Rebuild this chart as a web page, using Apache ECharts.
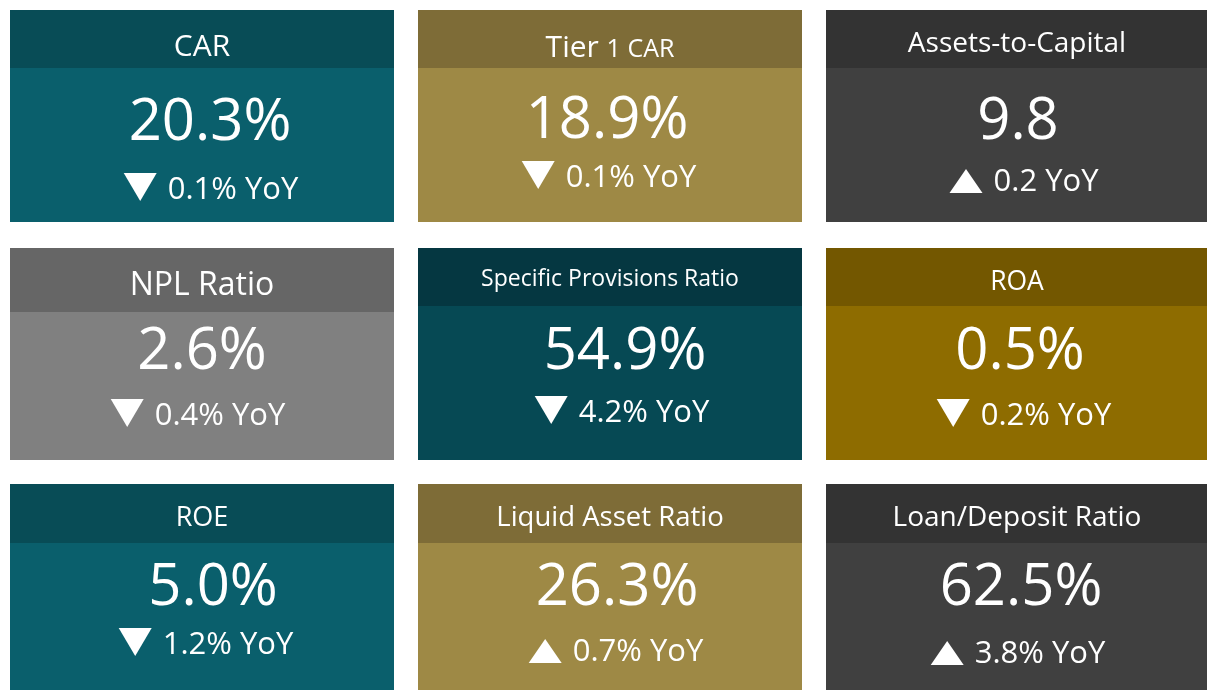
<!DOCTYPE html>
<html><head><meta charset="utf-8">
<script src="https://cdn.jsdelivr.net/npm/echarts@6/dist/echarts.min.js"></script>
<style>html,body{margin:0;padding:0;background:#fff}#main{width:1207px;height:690px}</style>
</head><body><div id="main"></div>
<script>
// ---- data ----
const titles = ['CAR', 'Tier 1 CAR', 'Assets-to-Capital', 'NPL Ratio', 'Specific Provisions Ratio', 'ROA', 'ROE', 'Liquid Asset Ratio', 'Loan/Deposit Ratio'];
const values = [20.3, 18.9, 9.8, 2.6, 54.9, 0.5, 5.0, 26.3, 62.5];
const changes = [-0.1, -0.1, 0.2, -0.4, -4.2, -0.2, -1.2, 0.7, 3.8];
const units = ['%', '%', '', '%', '%', '%', '%', '%', '%'];

// ---- styles ----
const headerColors = ['#084c56', '#7e6c37', '#333333', '#666666', '#053741', '#735700', '#084c56', '#7e6c37', '#333333'];
const bodyColors = ['#0a5f6c', '#9e8945', '#404040', '#808080', '#064954', '#8e6c00', '#0a5f6c', '#9e8945', '#404040'];

// ---- layout ----
const colX = [10, 418, 826];
const colW = [384, 384, 382];
const rowY = [10, 248, 484];
const rowH = [212, 212, 206];
const headerH = [58, 58, 58, 64, 58, 58, 59, 59, 59];
const titleY = [37, 38, 34, 38, 31, 34, 34, 34, 34];
const titleSize = [30, 30, 28, 32, 23, 26.5, 27, 27.5, 28];
const titleSmallFrom = [-1, 5, -1, -1, -1, -1, -1, -1, -1];
const titleSmallSize = 25;
const valueY = [113, 111, 112, 104, 104, 104, 104, 104, 104];
const valueDx = [8, -3, 1, 0, 15, 3, 11, 7, 4];
const yoyY = [180, 168, 172, 168, 165, 168, 161, 168, 170];
const yoyDx = [9, -1, 7, -4, 12, 7, 4, 6, 1];
const valueSize = 58, yoySize = 31;
const FONT = '"Open Sans", "Noto Sans", sans-serif';

const mctx = document.createElement('canvas').getContext('2d');
function textW(t, size) { mctx.font = size + 'px ' + FONT; return mctx.measureText(t).width; }

const graphics = [];
titles.forEach(function (title, i) {
  const col = i % 3, row = Math.floor(i / 3);
  const x = colX[col], y = rowY[row], w = colW[col], h = rowH[row];
  const cx = x + w / 2;
  graphics.push({ type: 'rect', shape: { x: x, y: y, width: w, height: h }, style: { fill: bodyColors[i] }, silent: true });
  graphics.push({ type: 'rect', shape: { x: x, y: y, width: w, height: headerH[i] }, style: { fill: headerColors[i] }, silent: true });
  let tstyle;
  if (titleSmallFrom[i] >= 0) {
    tstyle = {
      text: '{a|' + title.slice(0, titleSmallFrom[i]) + '}{b|' + title.slice(titleSmallFrom[i]) + '}',
      rich: { a: { fontSize: titleSize[i], fontFamily: FONT, fill: '#fff' }, b: { fontSize: titleSmallSize, fontFamily: FONT, fill: '#fff', padding: [3, 0, 0, 0] } }
    };
  } else {
    tstyle = { text: title, fontSize: titleSize[i] };
  }
  graphics.push({ type: 'text', x: cx, y: y + titleY[i], style: Object.assign({ fill: '#fff', fontFamily: FONT, align: 'center', verticalAlign: 'middle' }, tstyle), silent: true });
  const valTxt = values[i].toFixed(1) + units[i];
  graphics.push({ type: 'text', x: cx + valueDx[i], y: y + valueY[i], style: { text: valTxt, fill: '#fff', fontFamily: FONT, fontSize: valueSize, align: 'center', verticalAlign: 'middle' }, silent: true });
  const chTxt = Math.abs(changes[i]).toFixed(1) + units[i] + ' YoY';
  const tw = textW(chTxt, yoySize);
  const triW = 33, gap = 11;
  const total = triW + gap + tw;
  const sx = cx + yoyDx[i] - total / 2;
  const cy = y + yoyY[i];
  const base = cy + 11;
  let pts;
  if (changes[i] < 0) {
    pts = [[sx, base - 28], [sx + triW, base - 28], [sx + triW / 2, base]];
  } else {
    pts = [[sx, base], [sx + triW, base], [sx + triW / 2, base - 24]];
  }
  graphics.push({ type: 'polygon', shape: { points: pts }, style: { fill: '#fff' }, silent: true });
  graphics.push({ type: 'text', x: sx + triW + gap, y: cy, style: { text: chTxt, fill: '#fff', fontFamily: FONT, fontSize: yoySize, align: 'left', verticalAlign: 'middle' }, silent: true });
});

const chart = echarts.init(document.getElementById('main'), null, { renderer: 'canvas' });
chart.setOption({ animation: false, backgroundColor: '#ffffff', graphic: { elements: graphics } });
</script>
</body></html>
